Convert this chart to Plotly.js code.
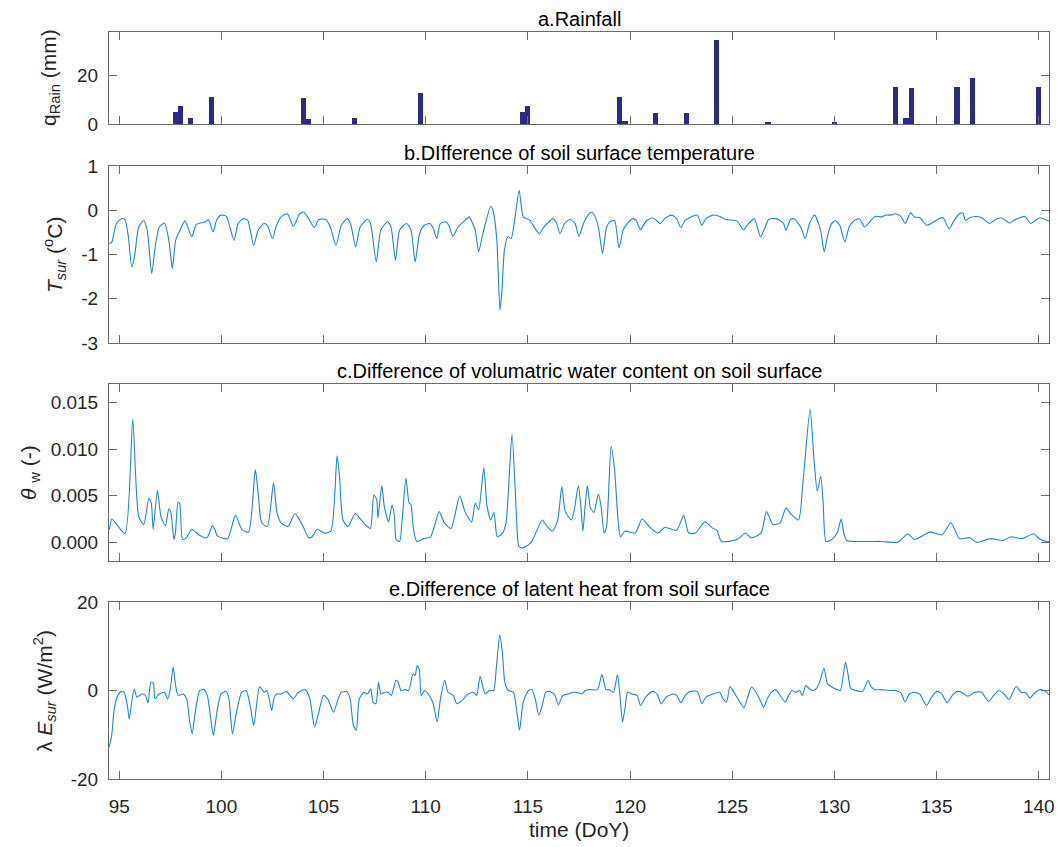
<!DOCTYPE html>
<html>
<head>
<meta charset="utf-8">
<script src="https://cdn.plot.ly/plotly-3.0.1.min.js"></script>
<style>html,body{margin:0;padding:0;background:#fff;}#chart{width:1061px;height:847px;}</style>
</head>
<body>
<div id="chart"></div>
<script>
// ---------- DATA ----------
const rainDoy = [97.75, 98.0, 98.5, 99.5, 104.0, 104.25, 106.5, 109.75, 114.75, 115.0, 119.5, 119.75, 121.25, 122.75, 124.25, 126.75, 130.0, 133.0, 133.5, 133.75, 136.0, 136.75, 140.0];
const rainMm  = [4.8, 7.3, 2.3, 11.0, 10.9, 2.1, 2.3, 12.7, 4.8, 7.6, 11.3, 1.1, 4.6, 4.4, 34.5, 1.0, 1.0, 15.2, 2.5, 14.8, 15.2, 18.8, 15.2];

const tDoy = [94.52,94.64,94.86,95.11,95.28,95.45,95.61,95.75,95.95,96.20,96.37,96.59,96.76,96.96,97.21,97.43,97.60,97.76,97.97,98.22,98.55,98.77,98.97,99.23,99.36,99.60,99.76,99.98,100.24,100.62,100.82,101.08,101.29,101.58,101.80,102.08,102.25,102.50,102.67,102.92,103.23,103.51,103.65,103.82,104.02,104.22,104.55,104.77,105.11,105.33,105.61,105.87,106.17,106.34,106.57,106.79,107.13,107.29,107.58,107.80,108.13,108.30,108.52,108.72,109.06,109.28,109.48,109.70,109.93,110.20,110.37,110.54,110.71,110.99,111.13,111.33,111.58,111.92,112.12,112.42,112.59,112.76,112.92,113.18,113.31,113.48,113.63,113.73,113.85,114.02,114.18,114.35,114.57,114.77,114.94,115.10,115.36,115.56,115.78,116.03,116.20,116.37,116.57,116.79,117.05,117.30,117.50,117.72,117.94,118.11,118.28,118.45,118.65,118.85,119.02,119.24,119.46,119.66,119.86,120.14,120.30,120.51,120.76,121.10,121.49,121.69,122.03,122.28,122.48,122.70,123.04,123.29,123.51,123.71,124.05,124.39,124.69,125.23,125.54,125.82,126.08,126.38,126.58,126.78,127.09,127.34,127.51,127.63,127.85,128.02,128.35,128.57,128.78,129.03,129.32,129.50,129.67,129.84,130.04,130.26,130.51,130.72,130.97,131.22,131.48,131.73,131.98,132.32,132.49,132.74,132.99,133.25,133.47,133.72,133.92,134.18,134.52,134.77,135.11,135.32,135.61,135.86,136.12,136.29,136.41,136.62,136.88,137.21,137.59,137.81,138.14,138.31,138.57,138.77,139.07,139.32,139.61,139.83,140.08,140.42,140.50];
const tSur = [-0.75,-0.72,-0.30,-0.19,-0.21,-0.60,-1.28,-1.05,-0.38,-0.23,-0.45,-1.43,-0.83,-0.38,-0.29,-0.68,-1.32,-0.68,-0.45,-0.24,-0.60,-0.32,-0.29,-0.26,-0.21,-0.49,-0.23,-0.11,-0.14,-0.68,-0.30,-0.19,-0.23,-0.79,-0.45,-0.30,-0.34,-0.64,-0.38,-0.15,-0.08,-0.36,-0.26,-0.09,-0.04,-0.15,-0.39,-0.21,-0.21,-0.38,-0.79,-0.34,-0.19,-0.34,-0.83,-0.38,-0.21,-0.29,-1.17,-0.45,-0.26,-0.38,-1.13,-0.45,-0.30,-0.45,-1.17,-0.53,-0.34,-0.30,-0.41,-0.64,-0.30,-0.26,-0.34,-0.59,-0.38,-0.23,-0.15,-0.45,-0.94,-0.60,-0.30,0.09,-0.04,-0.68,-2.26,-1.81,-0.90,-0.60,-0.64,-0.23,0.45,-0.15,-0.19,-0.23,-0.42,-0.53,-0.38,-0.26,-0.19,-0.26,-0.53,-0.30,-0.21,-0.29,-0.59,-0.30,-0.11,-0.04,-0.14,-0.38,-0.98,-0.38,-0.26,-0.23,-0.85,-0.45,-0.30,-0.19,-0.23,-0.44,-0.26,-0.17,-0.30,-0.19,-0.11,-0.19,-0.39,-0.23,-0.14,-0.11,-0.34,-0.19,-0.11,-0.14,-0.21,-0.24,-0.44,-0.29,-0.19,-0.60,-0.42,-0.21,-0.19,-0.23,-0.30,-0.45,-0.21,-0.19,-0.38,-0.64,-0.30,-0.11,-0.45,-0.94,-0.57,-0.32,-0.23,-0.34,-0.72,-0.38,-0.23,-0.19,-0.38,-0.26,-0.14,-0.15,-0.11,-0.11,-0.08,-0.14,-0.30,-0.06,-0.15,-0.17,-0.34,-0.29,-0.19,-0.17,-0.42,-0.23,-0.08,-0.06,-0.23,-0.17,-0.14,-0.17,-0.30,-0.23,-0.17,-0.21,-0.29,-0.23,-0.17,-0.14,-0.30,-0.23,-0.17,-0.23,-0.24];

const wDoy = [94.52,94.64,95.28,95.66,95.95,96.20,96.45,96.57,96.66,96.87,97.04,97.26,97.43,97.53,97.68,97.75,97.88,97.96,98.10,98.30,98.55,98.90,99.30,99.56,99.68,99.80,100.30,100.69,101.00,101.33,101.66,101.80,101.97,102.25,102.55,102.72,102.92,103.26,103.60,103.85,104.00,104.27,104.44,104.69,105.03,105.36,105.66,105.78,105.95,106.20,106.54,106.70,107.04,107.29,107.46,107.60,107.66,107.85,107.97,108.18,108.35,108.47,108.55,108.72,108.86,109.03,109.19,109.27,109.40,109.56,109.90,110.24,110.66,110.91,111.24,111.66,111.92,112.25,112.42,112.59,112.84,113.00,113.18,113.34,113.50,113.76,113.93,114.22,114.44,114.55,114.69,114.94,115.19,115.70,115.87,116.20,116.46,116.66,116.83,117.13,117.27,117.47,117.59,117.69,117.80,117.91,118.06,118.23,118.45,118.58,118.73,118.85,119.07,119.24,119.41,119.53,119.75,120.25,120.59,120.93,121.35,121.69,122.28,122.62,122.87,123.20,123.66,124.05,124.25,124.47,125.23,125.65,125.91,126.41,126.67,127.00,127.34,127.63,127.85,128.24,128.47,128.81,129.00,129.16,129.33,129.45,129.59,129.87,130.13,130.33,130.46,130.60,131.48,132.32,133.08,133.59,133.92,134.68,135.27,135.70,136.12,136.62,136.96,137.64,138.23,138.65,139.16,139.75,140.08,140.42,140.50];
const thetaW = [0.00136,0.00251,0.00093,0.0132,0.0028,0.0019,0.0047,0.0042,0.0014,0.0056,0.0028,0.0018,0.0036,0.0032,0.0003,0.0010,0.0043,0.0042,0.0003,0.0005,0.0014,0.0008,0.0005,0.0018,0.0014,0.0007,0.0004,0.0029,0.0014,0.0011,0.0078,0.0053,0.0021,0.0017,0.0064,0.0032,0.0021,0.0017,0.0031,0.0023,0.0017,0.0005,0.0006,0.0014,0.0010,0.0012,0.0093,0.0071,0.0024,0.0017,0.0031,0.0028,0.0019,0.0015,0.0051,0.0046,0.0026,0.0061,0.0039,0.0022,0.0040,0.0028,0.0003,0.0001,0.0028,0.0069,0.0042,0.0041,0.0014,0.0001,0.0004,0.0006,0.0033,0.0021,0.0015,0.0050,0.0033,0.0022,0.0042,0.0035,0.0080,0.0039,0.0024,0.0032,0.0006,0.0010,0.0021,0.0116,0.0028,-0.0004,-0.0006,-0.0004,0.0001,0.0024,0.0019,0.0012,0.0024,0.0060,0.0033,0.0024,0.0035,0.0061,0.0039,0.0012,0.0039,0.0061,0.0037,0.0032,0.0052,0.0039,0.0010,0.0017,0.0103,0.0078,0.0024,0.0006,0.0012,0.0010,0.0025,0.0017,0.0010,0.0016,0.0013,0.0029,0.0010,0.0010,0.0022,0.0015,0.0013,0.0001,0.0003,0.0010,0.0005,0.0010,0.0033,0.0019,0.0021,0.0037,0.0031,0.0024,0.0067,0.0143,0.0089,0.0055,0.0071,0.0042,0.0001,0.0003,0.0010,0.0025,0.0010,0.0002,0.0001,0.0001,0.0000,0.0009,0.0003,0.0011,0.0008,0.0021,0.0004,0.0005,0.0000,0.0004,0.0002,0.0006,0.0004,0.0009,0.0003,0.0001,0.0001];

const eDoy = [94.51,94.63,94.76,94.93,95.10,95.24,95.40,95.49,95.61,95.74,95.86,96.11,96.28,96.41,96.55,96.67,96.75,96.95,97.21,97.37,97.49,97.64,97.76,97.88,98.13,98.30,98.43,98.57,98.72,98.94,99.14,99.31,99.48,99.61,99.78,99.98,100.24,100.37,100.54,100.74,100.99,101.21,101.41,101.58,101.70,101.87,102.09,102.22,102.34,102.46,102.59,102.71,102.93,103.18,103.35,103.52,103.77,104.11,104.33,104.56,104.73,105.00,105.20,105.49,105.71,105.88,106.13,106.30,106.46,106.60,106.75,106.97,107.14,107.31,107.42,107.56,107.69,107.81,107.98,108.15,108.32,108.54,108.65,108.79,108.99,109.16,109.38,109.48,109.58,109.68,109.78,109.95,110.12,110.34,110.56,110.72,110.93,111.09,111.35,111.52,111.77,112.02,112.31,112.49,112.66,112.91,113.11,113.32,113.45,113.62,113.75,113.87,114.04,114.29,114.46,114.59,114.77,115.03,115.19,115.36,115.53,115.70,115.87,116.04,116.29,116.49,116.71,116.96,117.22,117.47,117.64,117.81,118.06,118.40,118.62,118.74,118.82,118.99,119.19,119.38,119.49,119.63,119.75,119.88,120.08,120.34,120.51,120.76,121.10,121.32,121.52,121.77,122.11,122.28,122.50,122.70,122.95,123.29,123.51,123.71,124.05,124.38,124.55,124.72,124.89,125.08,125.33,125.57,125.73,125.94,126.16,126.41,126.54,126.71,126.91,127.12,127.34,127.59,127.76,127.93,128.09,128.30,128.43,128.60,128.77,128.94,129.11,129.27,129.49,129.66,129.87,130.13,130.29,130.54,130.66,130.80,131.05,131.38,131.64,131.80,131.97,132.31,132.65,132.98,133.24,133.46,133.66,133.91,134.17,134.50,134.76,135.01,135.26,135.51,135.77,136.02,136.27,136.53,136.86,137.20,137.54,137.79,138.04,138.30,138.55,138.89,139.14,139.36,139.56,139.81,140.08,140.33,140.50];
const leSur = [-12.8,-10.2,-4.1,-1.1,-0.2,-0.4,-3.4,-6.5,-2.6,0.4,-1.5,-0.8,-1.1,-2.8,1.9,1.7,-1.9,-0.8,-0.4,-1.9,0.0,5.3,1.1,-1.1,-0.8,-1.9,-6.4,-9.8,-4.9,0.0,0.2,-1.1,-6.4,-10.2,-4.9,-0.8,-0.2,-1.9,-9.8,-4.9,-0.4,0.0,-3.4,-7.9,-4.1,0.9,-0.4,0.0,-1.9,-4.5,-1.5,-0.8,-0.8,-0.2,-1.1,-1.9,-0.4,0.2,-1.9,-8.3,-5.6,-1.1,-1.9,-4.9,-1.9,-0.4,-0.2,-1.9,-7.9,-9.0,-1.9,-0.4,-0.8,0.4,-2.6,-3.0,1.9,-0.8,-0.4,-0.4,-1.1,2.3,1.9,0.0,0.2,0.0,3.8,3.4,5.6,4.9,-1.1,0.0,-0.8,-2.6,-7.1,-1.9,2.3,-0.4,-1.1,-3.0,-2.3,-1.0,-0.4,-1.1,3.2,-0.8,0.0,0.0,4.9,12.6,8.6,1.9,0.0,-0.4,-4.9,-9.0,-2.6,0.0,0.2,-1.9,-5.6,-3.4,-0.4,-0.2,-0.8,-3.2,-1.1,-0.8,-0.4,-0.5,-0.8,0.0,0.2,0.2,3.6,1.5,0.2,0.2,-0.4,3.6,-0.4,-7.1,-4.1,-0.4,-0.8,-1.1,-3.4,-1.5,-0.2,-0.8,-3.0,-1.5,-0.8,-1.1,-2.8,-1.1,-0.2,-0.2,-3.0,-1.5,-0.8,-0.4,-1.9,-2.6,0.9,-0.4,-2.3,-3.9,-1.9,0.8,-0.4,-2.6,-3.8,-1.9,-0.4,0.2,-1.1,-2.6,-1.1,0.0,-0.4,0.0,-1.1,1.1,0.4,0.0,0.4,1.9,5.0,1.5,0.8,0.2,0.0,6.4,3.8,0.4,0.0,-0.2,2.3,0.8,0.2,0.2,0.0,0.0,-0.5,-2.6,-0.8,-0.4,-0.8,-3.4,-1.5,-0.2,-0.8,-2.8,-1.1,-0.2,-0.5,-1.3,-0.4,-0.4,-2.5,-1.1,0.0,-0.8,-2.0,0.9,-0.4,-0.5,-1.7,-0.5,0.2,-0.2,-1.0];

const xTicks = [95, 100, 105, 110, 115, 120, 125, 130, 135, 140];
const rainTicks = [0, 20];
const tTicks = [-3, -2, -1, 0, 1];
const tTickText = ['-3', '-2', '-1', '0', '1'];
const wTicks = [0, 0.005, 0.010, 0.015];
const wTickText = ['0.000', '0.005', '0.010', '0.015'];
const eTicks = [-20, 0, 20];
const eTickText = ['-20', '0', '20'];

const panelTitles = ['a.Rainfall', 'b.DIfference of soil surface temperature', 'c.Difference of volumatric water content on soil surface', 'e.Difference of latent heat from soil surface'];

// ---------- LAYOUT ----------
const W = 1061, H = 847;
const FONT = 'Liberation Sans, Arial, Helvetica, sans-serif';
const TXT = '#262626';
const AX = '#6b6b6b';
const LINE = '#2385c9';
function dom(top, bottom) { return [(H - bottom) / H, (H - top) / H]; }
const xDom = [109 / W, 1049 / W];
const panels = [[32, 124], [166, 343], [384, 561], [602, 779]];

function xAx(anchor, showLabels) {
  return {
    domain: xDom, range: [94.5, 140.5], anchor: anchor,
    tickmode: 'array', tickvals: xTicks, ticktext: xTicks.map(String),
    showticklabels: showLabels, ticks: 'inside', ticklen: 8, tickwidth: 1, tickcolor: AX,
    showline: true, linecolor: AX, linewidth: 1, mirror: 'ticks',
    showgrid: false, zeroline: false,
    tickfont: {family: FONT, size: 19, color: TXT}, ticklabelstandoff: 10
  };
}
function yAx(anchor, d, range, vals, text) {
  return {
    domain: d, range: range, anchor: anchor,
    tickmode: 'array', tickvals: vals, ticktext: text,
    ticks: 'inside', ticklen: 8, tickwidth: 1, tickcolor: AX,
    showline: true, linecolor: AX, linewidth: 1, mirror: 'ticks',
    showgrid: false, zeroline: false,
    tickfont: {family: FONT, size: 19, color: TXT}, ticklabelstandoff: 6
  };
}

const lineStyle = {color: LINE, width: 1.1, shape: 'spline', smoothing: 0.6};
const traces = [
  {type: 'bar', x: rainDoy, y: rainMm, width: 0.25, marker: {color: '#2c2a88', line: {width: 0}}, xaxis: 'x', yaxis: 'y'},
  {type: 'scatter', mode: 'lines', x: tDoy, y: tSur, line: lineStyle, xaxis: 'x2', yaxis: 'y2'},
  {type: 'scatter', mode: 'lines', x: wDoy, y: thetaW, line: lineStyle, xaxis: 'x3', yaxis: 'y3'},
  {type: 'scatter', mode: 'lines', x: eDoy, y: leSur, line: lineStyle, xaxis: 'x4', yaxis: 'y4'}
];

const annotations = [];
const titleX = (xDom[0] + xDom[1]) / 2;
panelTitles.forEach((t, i) => {
  annotations.push({text: t, xref: 'paper', yref: 'paper', x: titleX, y: (H - panels[i][0]) / H,
    xanchor: 'center', yanchor: 'bottom', showarrow: false, yshift: 0,
    font: {family: FONT, size: 20, color: '#000'}});
});
const yTitles = [
  {text: 'q<sub>Rain</sub> (mm)', x: 50, y: 78},
  {text: '<i>T</i><sub><i>sur</i></sub> (<sup>o</sup>C)', x: 55, y: 255},
  {text: '<i>θ</i> <sub>w</sub> (-)', x: 30, y: 473},
  {text: 'λ <i>E</i><sub><i>sur</i></sub> (W/m<sup>2</sup>)', x: 44, y: 691}
];
yTitles.forEach(a => {
  annotations.push({text: a.text, xref: 'paper', yref: 'paper', x: a.x / W, y: (H - a.y) / H,
    xanchor: 'center', yanchor: 'middle', textangle: -90, showarrow: false,
    font: {family: FONT, size: 21, color: TXT}});
});
annotations.push({text: 'time (DoY)', xref: 'paper', yref: 'paper', x: 579.5 / W, y: (H - 829) / H,
  xanchor: 'center', yanchor: 'middle', showarrow: false, font: {family: FONT, size: 21, color: TXT}});

const layout = {
  width: W, height: H, margin: {l: 0, r: 0, t: 0, b: 0},
  paper_bgcolor: '#fff', plot_bgcolor: '#fff', showlegend: false, bargap: 0,
  xaxis: xAx('y', false), yaxis: yAx('x', dom(...panels[0]), [0, 38], rainTicks, rainTicks.map(String)),
  xaxis2: xAx('y2', false), yaxis2: yAx('x2', dom(...panels[1]), [-3, 1], tTicks, tTickText),
  xaxis3: xAx('y3', false), yaxis3: yAx('x3', dom(...panels[2]), [-0.002, 0.017], wTicks, wTickText),
  xaxis4: xAx('y4', true), yaxis4: yAx('x4', dom(...panels[3]), [-20, 20], eTicks, eTickText),
  annotations: annotations
};

Plotly.newPlot('chart', traces, layout, {staticPlot: true, displayModeBar: false});
</script>
</body>
</html>
